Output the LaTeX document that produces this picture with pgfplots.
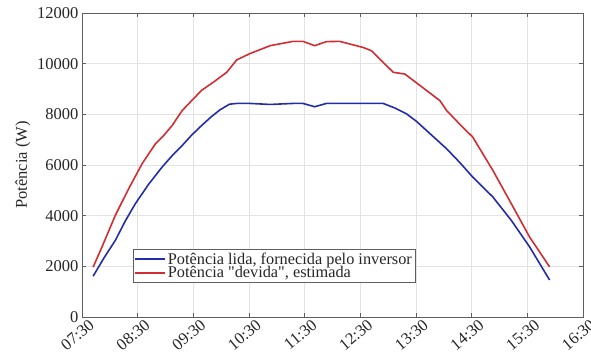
\documentclass[border=0pt]{standalone}
\usepackage{fontspec}
\setmainfont{Liberation Serif}
\usepackage{pgfplots}
\pgfplotsset{compat=1.18}
\definecolor{myblue}{RGB}{35,45,170}
\definecolor{myred}{RGB}{210,45,50}
\definecolor{axgray}{RGB}{95,95,95}
\begin{document}
\begin{tikzpicture}
\begin{axis}[
  scale only axis, width=501pt, height=304pt,
  xmin=7.5, xmax=16.5, ymin=0, ymax=12000,
  xtick={7.5,8.5,9.5,10.5,11.5,12.5,13.5,14.5,15.5,16.5},
  xticklabels={07:30,08:30,09:30,10:30,11:30,12:30,13:30,14:30,15:30,16:30},
  ytick={0,2000,4000,6000,8000,10000,12000},
  scaled y ticks=false,
  yticklabel style={/pgf/number format/fixed, /pgf/number format/1000 sep={}},
  /pgf/number format/assume math mode=true,
  grid=major, grid style={gray!22, line width=0.6pt},
  axis line style={axgray, line width=0.7pt},
  tick style={axgray, line width=0.7pt},
  tick align=inside, major tick length=4pt,
  tick label style={font=\fontsize{16.5}{19}\selectfont, text=black!85},
  x tick label style={rotate=40, anchor=north east, inner sep=1pt, xshift=5pt, yshift=-4pt},
  label style={font=\fontsize{16.5}{19}\selectfont, text=black!85},
  ylabel={Potência (W)},
  legend style={at={(0.102,0.223)}, anchor=north west, draw=axgray, line width=0.7pt,
    fill=white, font=\fontsize{16.3}{18}\selectfont, inner sep=1pt, row sep=-3pt, text=black!85},
  legend cell align=left,
  legend image code/.code={\draw[#1, line width=1.6pt] (0cm,0cm) -- (1.05cm,0cm);},
]
\addplot[myblue, line width=1.6pt] coordinates {
(7.70,1610) (7.90,2350) (8.10,3030) (8.28,3800) (8.46,4480) (8.70,5250) (8.94,5920) (9.12,6370) (9.30,6770) (9.47,7180) (9.65,7560)
(9.82,7900) (9.98,8180) (10.15,8400) (10.28,8430) (10.52,8430) (10.88,8390) (11.29,8430)
(11.47,8430) (11.68,8300) (11.89,8430) (12.50,8430) (12.91,8430) (13.12,8250) (13.33,8020)
(13.51,7720) (13.69,7360) (14.05,6640) (14.29,6090) (14.52,5520) (14.88,4740) (15.21,3820) (15.54,2770)
(15.90,1460)};
\addlegendentry{Potência lida, fornecida pelo inversor}
\addplot[myred, line width=1.6pt] coordinates {
(7.70,1970) (7.86,2770) (8.10,4020) (8.34,5070) (8.58,6050) (8.82,6840) (8.97,7170) (9.12,7560) (9.30,8150) (9.47,8540) (9.65,8950)
(9.88,9300) (10.10,9660) (10.28,10150) (10.52,10400) (10.88,10710) (11.29,10880) (11.47,10880)
(11.68,10710) (11.89,10870) (12.13,10880) (12.55,10640) (12.70,10510) (13.09,9660)
(13.30,9590) (13.69,8940) (13.93,8540) (14.05,8150) (14.29,7600) (14.52,7100) (14.88,5790)
(15.21,4480) (15.54,3160) (15.90,1980)};
\addlegendentry{Potência \textquotedbl devida\textquotedbl, estimada}
\end{axis}
\pgfresetboundingbox
\path[use as bounding box] ([xshift=-82pt,yshift=-41pt]current axis.south west) rectangle ([xshift=8pt,yshift=13pt]current axis.north east);
\end{tikzpicture}
\end{document}
